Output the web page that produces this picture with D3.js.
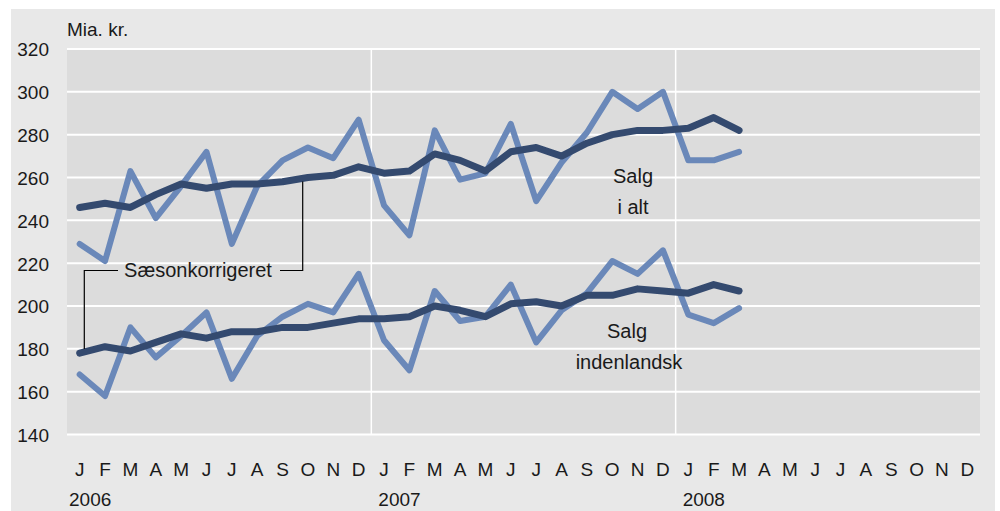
<!DOCTYPE html>
<html><head><meta charset="utf-8">
<script src="https://cdn.jsdelivr.net/npm/d3@7"></script>
<style>
html,body{margin:0;padding:0;background:#fff;}
text{font-family:"Liberation Sans",Arial,sans-serif;fill:#1a1a1a;}
</style></head>
<body><svg id="c" width="1000" height="511"></svg>
<script>
const months = ["J","F","M","A","M","J","J","A","S","O","N","D","J","F","M","A","M","J","J","A","S","O","N","D","J","F","M","A","M","J","J","A","S","O","N","D"];
const years = [{label:"2006", index:0},{label:"2007", index:12},{label:"2008", index:24}];
const yTicks = [140,160,180,200,220,240,260,280,300,320];
const salgIAlt = [229,221,263,241,256,272,229,256,268,274,269,287, 247,233,282,259,262,285,249,267,281,300,292,300, 268,268,272];
const salgIAltSA = [246,248,246,252,257,255,257,257,258,260,261,265, 262,263,271,268,263,272,274,270,276,280,282,282, 283,288,282];
const salgIndl = [168,158,190,176,186,197,166,186,195,201,197,215, 184,170,207,193,195,210,183,198,206,221,215,226, 196,192,199];
const salgIndlSA = [178,181,179,183,187,185,188,188,190,190,192,194, 194,195,200,198,195,201,202,200,205,205,208,207, 206,210,207];

const svg = d3.select("#c");
svg.append("rect").attr("x",11).attr("y",9).attr("width",984).attr("height",502).attr("fill","#e8e8e8");

const L=67,R=980,T=49,B=434.5;
const x = d3.scaleBand().domain(d3.range(months.length)).range([L,R]).paddingInner(0).paddingOuter(0);
const xc = i => x(i)+x.bandwidth()/2;
const y = d3.scaleLinear().domain([140,320]).range([B,T]);

svg.append("rect").attr("x",L).attr("y",T).attr("width",R-L).attr("height",B-T).attr("fill","#dcdcdc");

svg.append("g").selectAll("line").data(yTicks).join("line")
  .attr("x1",L).attr("x2",R).attr("y1",d=>y(d)).attr("y2",d=>y(d))
  .attr("stroke","#fff").attr("stroke-width",2);
svg.append("g").selectAll("line").data(years.filter(d=>d.index>0)).join("line")
  .attr("x1",d=>x(d.index)).attr("x2",d=>x(d.index)).attr("y1",T).attr("y2",B)
  .attr("stroke","#fff").attr("stroke-width",1.5);

const yAxis = d3.axisLeft(y).tickValues(yTicks).tickSize(0).tickPadding(0);
const gy = svg.append("g").attr("transform",`translate(${49},0)`).call(yAxis);
gy.select(".domain").remove();
gy.selectAll("text").attr("font-size",19).attr("font-family","Liberation Sans, Arial, sans-serif").attr("fill","#1a1a1a").attr("dy","0.36em");

svg.append("text").attr("x",67).attr("y",35.5).attr("font-size",19).text("Mia. kr.");

svg.append("g").selectAll("text").data(months).join("text")
  .attr("x",(d,i)=>xc(i)).attr("y",476).attr("text-anchor","middle").attr("font-size",19).text(d=>d);
svg.append("g").selectAll("text").data(years).join("text")
  .attr("x",d=>x(d.index)+(d.index===0?2:7)).attr("y",506).attr("font-size",19).text(d=>d.label);

const line = d3.line().x((d,i)=>xc(i)).y(d=>y(d));
const light="#6a88b9", dark="#344a6f";
function draw(data,color,w){
  svg.append("path").attr("d",line(data)).attr("fill","none").attr("stroke",color)
    .attr("stroke-width",w).attr("stroke-linejoin","round").attr("stroke-linecap","round");
}
draw(salgIAlt,light,6);
draw(salgIndl,light,6);
draw(salgIAltSA,dark,7);
draw(salgIndlSA,dark,7);

const ann = svg.append("g");
ann.append("text").attr("x",198).attr("y",277).attr("text-anchor","middle").attr("font-size",20).text("Sæsonkorrigeret");
const cx2 = 302.7;
const i0 = Math.floor((cx2 - xc(0))/x.step());
const t = (cx2 - xc(i0))/x.step();
const vTop = salgIAltSA[i0]*(1-t)+salgIAltSA[i0+1]*t;
ann.append("path").attr("d",`M280,270.5H${cx2}V${y(vTop)+3}`).attr("fill","none").attr("stroke","#000").attr("stroke-width",1.2);
ann.append("path").attr("d",`M118,270.5H84.3V${y(salgIndlSA[0]+ (salgIndlSA[1]-salgIndlSA[0])*((84.3-xc(0))/x.step()))-3}`).attr("fill","none").attr("stroke","#000").attr("stroke-width",1.2);

svg.append("text").attr("x",633).attr("y",183).attr("text-anchor","middle").attr("font-size",20).text("Salg");
svg.append("text").attr("x",633).attr("y",214).attr("text-anchor","middle").attr("font-size",20).text("i alt");
svg.append("text").attr("x",627).attr("y",338).attr("text-anchor","middle").attr("font-size",20).text("Salg");
svg.append("text").attr("x",629).attr("y",369).attr("text-anchor","middle").attr("font-size",20).text("indenlandsk");
</script></body></html>
